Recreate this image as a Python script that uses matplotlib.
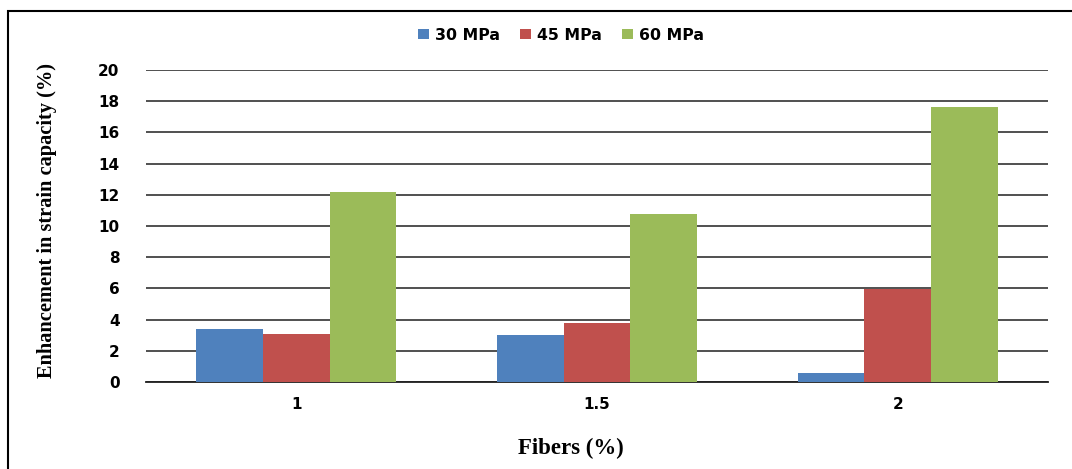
import matplotlib
matplotlib.use("Agg")
import matplotlib.pyplot as plt
from matplotlib.patches import Rectangle
import numpy as np

categories = ["1", "1.5", "2"]
series_names = ["30 MPa", "45 MPa", "60 MPa"]
mpa30 = [3.4, 3.0, 0.55]
mpa45 = [3.05, 3.8, 5.95]
mpa60 = [12.2, 10.8, 17.6]
yticks = [0, 2, 4, 6, 8, 10, 12, 14, 16, 18, 20]

colors = ["#4F81BD", "#C0504D", "#9BBB59"]

fig = plt.figure(figsize=(10.72, 4.69), dpi=100)
ax = fig.add_axes([146/1072, 1 - 382/469, (1048 - 146)/1072, (382 - 70)/469])

x = np.arange(len(categories))
w = 0.222
for i, (vals, name) in enumerate(zip([mpa30, mpa45, mpa60], series_names)):
    ax.bar(x + (i - 1) * w, vals, width=w, color=colors[i], label=name, zorder=3)

ax.set_xlim(-0.5, len(categories) - 0.5)
ax.set_ylim(0, 20)
ax.set_yticks(yticks)
ax.set_yticklabels([str(t) for t in yticks])
ax.set_xticks(x)
ax.set_xticklabels(categories)
ax.yaxis.grid(True, color="#202020", linewidth=1.1, zorder=0)
ax.set_axisbelow(True)
for s in ["top", "right", "left"]:
    ax.spines[s].set_visible(False)
ax.spines["bottom"].set_color("#202020")
ax.spines["bottom"].set_linewidth(1.3)
ax.tick_params(axis="both", length=0)
ax.tick_params(axis="y", pad=19)
ax.tick_params(axis="x", pad=11)
for lab in ax.get_yticklabels() + ax.get_xticklabels():
    lab.set_fontweight("bold")
    lab.set_fontsize(11)
    lab.set_fontfamily("DejaVu Sans")

fig.text(47/1072, 1 - 220/469, "Enhancement in strain capacity (%)", rotation=90,
         ha="center", va="center", fontsize=14.7, fontweight="bold",
         family="Liberation Serif")
fig.text(571/1072, 1 - 448/469, "Fibers (%)", ha="center", va="center",
         fontsize=16.5, fontweight="bold", family="Liberation Serif")

leg = fig.legend(loc="center", bbox_to_anchor=(561/1072, 1 - 35/469), ncol=3,
                 frameon=False, handlelength=0.7, handleheight=0.7,
                 handletextpad=0.35, columnspacing=1.3,
                 prop={"weight": "bold", "size": 11.3, "family": "DejaVu Sans"})

fig.patches.append(Rectangle((8/1072, -0.1), 1.2, 1 - 11/469 + 0.1,
                             transform=fig.transFigure, fill=False,
                             edgecolor="black", linewidth=1.5, clip_on=False))

fig.savefig("out.png", dpi=100)
